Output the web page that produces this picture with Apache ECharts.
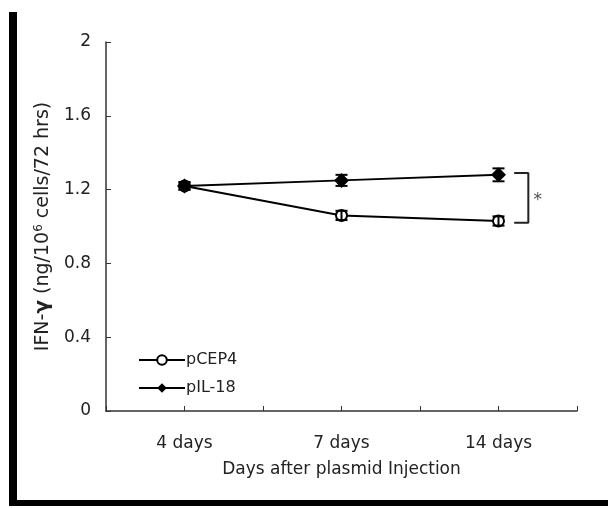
<!DOCTYPE html>
<html>
<head>
<meta charset="utf-8">
<script src="https://cdn.jsdelivr.net/npm/echarts@6/dist/echarts.min.js"></script>
<style>
  html, body { margin: 0; padding: 0; background: #fff; }
  #box { width: 608px; height: 508px; }
</style>
</head>
<body>
<div id="box"></div>
<script>
// 数据
var categories = ["4 days", "7 days", "14 days"];
var xPos = [1, 3, 5];
var pcep4 = [1.22, 1.06, 1.03];
var pcep4Err = [0.02, 0.025, 0.025];
var pil18 = [1.22, 1.25, 1.28];
var pil18Err = [0.02, 0.03, 0.035];
var yTicks = [0, 0.4, 0.8, 1.2, 1.6, 2];

var myChart = echarts.init(document.getElementById("box"));
var font = "DejaVu Sans";

function pairs(vals) {
  return vals.map(function (v, i) {
    return [xPos[i], v];
  });
}

function errData(vals, errs) {
  return vals.map(function (v, i) {
    return [xPos[i], v - errs[i], v + errs[i]];
  });
}

// 误差线
function errRender(params, api) {
  var lo = api.coord([api.value(0), api.value(1)]);
  var hi = api.coord([api.value(0), api.value(2)]);
  var w = 6;
  var st = { stroke: "#000", lineWidth: 2 };
  return {
    type: "group",
    children: [
      { type: "line", shape: { x1: lo[0], y1: lo[1], x2: hi[0], y2: hi[1] }, style: st },
      { type: "line", shape: { x1: lo[0] - w, y1: lo[1], x2: lo[0] + w, y2: lo[1] }, style: st },
      { type: "line", shape: { x1: hi[0] - w, y1: hi[1], x2: hi[0] + w, y2: hi[1] }, style: st },
    ],
  };
}

var option = {
  backgroundColor: "#fff",
  animation: false,
  textStyle: { fontFamily: font },
  grid: { left: 106, right: 31, top: 42, bottom: 97 },
  legend: {
    orient: "vertical",
    left: 133,
    top: 347,
    itemWidth: 46,
    itemHeight: 12,
    itemGap: 12,
    textStyle: { fontSize: 16, color: "#222", fontFamily: font, padding: [0, 0, 0, -4] },
    data: ["pCEP4", "pIL-18"],
  },
  xAxis: {
    type: "value",
    min: 0,
    max: 6,
    interval: 1,
    name: "Days after plasmid Injection",
    nameLocation: "middle",
    nameGap: 50,
    nameTextStyle: { fontSize: 17, color: "#222" },
    axisLine: { lineStyle: { color: "#333", width: 1.5 } },
    axisTick: { inside: true, length: 5, lineStyle: { color: "#333" } },
    axisLabel: {
      margin: 24,
      fontSize: 17,
      color: "#222",
      formatter: function (v) {
        var i = xPos.indexOf(v);
        return i >= 0 ? categories[i] : "";
      },
    },
    splitLine: { show: false },
  },
  yAxis: {
    type: "value",
    min: yTicks[0],
    max: yTicks[yTicks.length - 1],
    interval: 0.4,
    name: "IFN-{b|γ} (ng/10{s|6} cells/72 hrs)",
    nameLocation: "middle",
    nameGap: 50,
    nameTextStyle: {
      fontSize: 19,
      color: "#222",
      rich: {
        b: { fontSize: 20, fontWeight: "bold", color: "#222" },
        s: { fontSize: 12, color: "#222", verticalAlign: "top", padding: [0, 0, 9, 0] },
      },
    },
    axisLine: { show: true, lineStyle: { color: "#333", width: 1.5 } },
    axisTick: { show: true, inside: true, length: 5, lineStyle: { color: "#333" } },
    axisLabel: { margin: 15, fontSize: 17, color: "#222" },
    splitLine: { show: false },
  },
  series: [
    {
      name: "pCEP4",
      type: "line",
      data: pairs(pcep4),
      symbol: "emptyCircle",
      symbolSize: 11,
      z: 3,
      lineStyle: { color: "#000", width: 2 },
      itemStyle: { color: "#000", borderColor: "#000", borderWidth: 2 },
    },
    {
      name: "pIL-18",
      type: "line",
      data: pairs(pil18),
      symbol: "diamond",
      symbolSize: 15,
      z: 3,
      lineStyle: { color: "#000", width: 2 },
      itemStyle: { color: "#000" },
    },
    {
      type: "custom",
      renderItem: errRender,
      data: errData(pcep4, pcep4Err),
      z: 4,
      silent: true,
    },
    {
      type: "custom",
      renderItem: errRender,
      data: errData(pil18, pil18Err),
      z: 4,
      silent: true,
    },
    {
      // 显著性括号
      type: "line",
      data: [[5.2, 1.29], [5.38, 1.29], [5.38, 1.02], [5.2, 1.02]],
      symbol: "none",
      silent: true,
      lineStyle: { color: "#222", width: 2 },
    },
    {
      type: "scatter",
      data: [[5.5, 1.14]],
      symbolSize: 0,
      silent: true,
      label: { show: true, formatter: "*", fontSize: 17, color: "#222", position: "inside" },
    },
  ],
  graphic: [
    { type: "rect", left: 9, top: 12, shape: { width: 8, height: 494 }, style: { fill: "#000" } },
    { type: "rect", left: 9, top: 500, shape: { width: 599, height: 6 }, style: { fill: "#000" } },
  ],
};

myChart.setOption(option);
</script>
</body>
</html>
